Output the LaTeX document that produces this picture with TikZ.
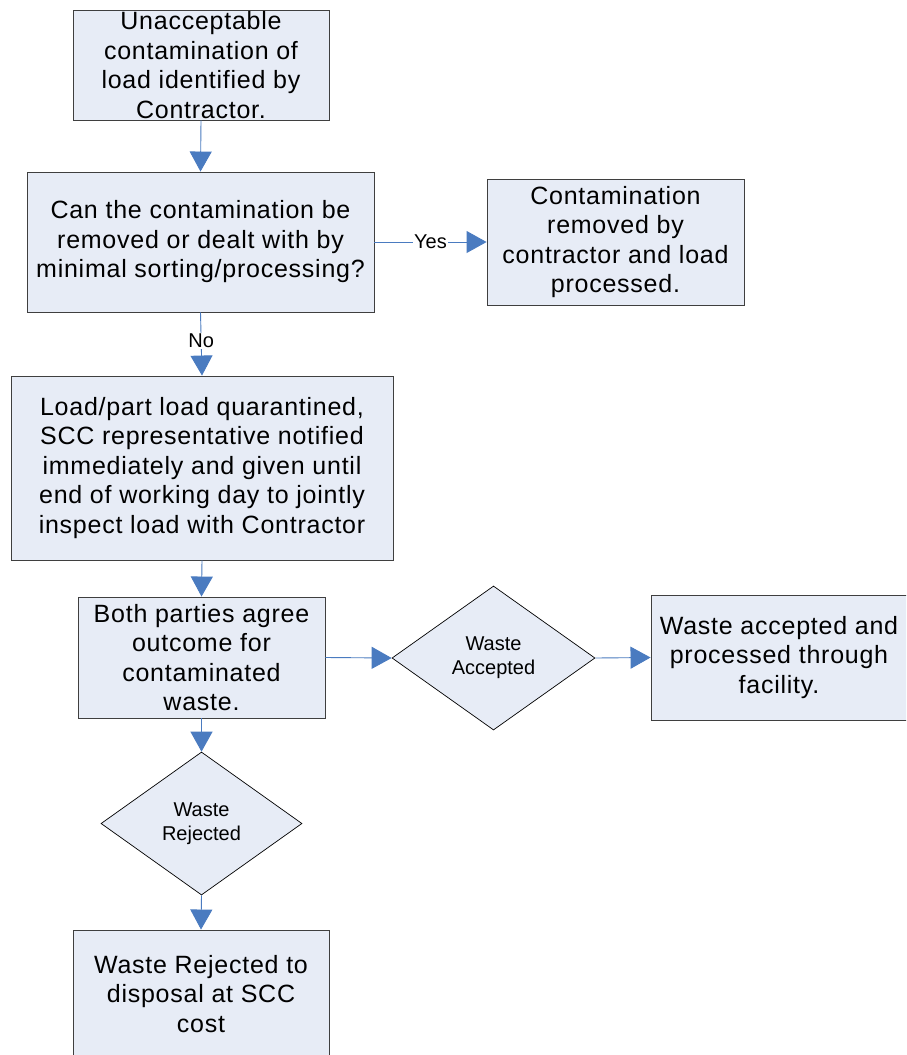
\documentclass[tikz,border=0pt]{standalone}
\usepackage{fontspec}
\setmainfont{Liberation Sans}
\newfontfamily\boxfont{Liberation Sans}[LetterSpace=3]
\usetikzlibrary{arrows.meta,shapes.geometric}
\definecolor{boxfill}{HTML}{E7ECF6}
\definecolor{boxline}{HTML}{3F3F3F}
\definecolor{arrowblue}{HTML}{4A7BC0}
\tikzset{
  procbox/.style={draw=boxline, fill=boxfill, line width=0.9pt, align=center,
    font=\boxfont\fontsize{25}{29.5}\selectfont, inner sep=0pt},
  decision/.style={diamond, draw=black, fill=boxfill, line width=0.7pt, align=center,
    font=\fontsize{20}{24}\selectfont, inner sep=0pt},
  flow/.style={draw=arrowblue, line width=0.9pt,
    -{Triangle[length=20pt,width=22pt]}, shorten >=0pt},
  lbl/.style={fill=white, inner sep=1pt, font=\fontsize{20}{22}\selectfont}
}
\begin{document}
\begin{tikzpicture}[x=1pt,y=-1pt]
\useasboundingbox (0,0) rectangle (906,1055);
\clip (0,0) rectangle (906,1055);
\fill[white] (0,0) rectangle (906,1055);
% boxes
\node[procbox, minimum width=256pt, minimum height=110pt] (a) at (201,65)
  {Unacceptable\\contamination of\\load identified by\\Contractor.};
\node[procbox, minimum width=347pt, minimum height=140pt] (b) at (200.5,242)
  {Can the contamination be\\removed or dealt with by\\minimal sorting/processing?};
\node[procbox, minimum width=257pt, minimum height=126pt] (c) at (615.5,242)
  {Contamination\\removed by\\contractor and load\\processed.};
\node[procbox, minimum width=382pt, minimum height=184pt] (d) at (202,468)
  {Load/part load quarantined,\\SCC representative notified\\immediately and given until\\end of working day to jointly\\inspect load with Contractor};
\node[procbox, minimum width=247pt, minimum height=121pt] (e) at (201.5,657.5)
  {Both parties agree\\outcome for\\contaminated\\waste.};
\node[decision, minimum width=203pt, minimum height=144pt] (acc) at (493.5,658)
  {Waste\\Accepted};
\node[procbox, minimum width=256pt, minimum height=125pt] (f) at (779,657.5)
  {Waste accepted and\\processed through\\facility.};
\node[decision, minimum width=201pt, minimum height=143pt] (rej) at (201.5,823.5)
  {Waste\\Rejected};
\node[procbox, minimum width=256pt, minimum height=160pt] (g) at (201,1010) {};
\node[align=center, font=\boxfont\fontsize{25}{29.5}\selectfont] (gt) at (201,994)
  {Waste Rejected to\\disposal at SCC\\cost};
% connectors
\draw[flow] (a.south) -- (b.north);
\draw[flow] (b.east) -- node[lbl, pos=0.5] (yes) {Yes} (c.west);
\draw[flow] (b.south) -- node[lbl, pos=0.45] (no) {No} (d.north);
\draw[flow] (d.south) -- (e.north);
\draw[flow] (e.east) -- (acc.west);
\draw[flow] (acc.east) -- (f.west);
\draw[flow] (e.south) -- (rej.north);
\draw[flow] (rej.south) -- (g.north);
\end{tikzpicture}
\end{document}
